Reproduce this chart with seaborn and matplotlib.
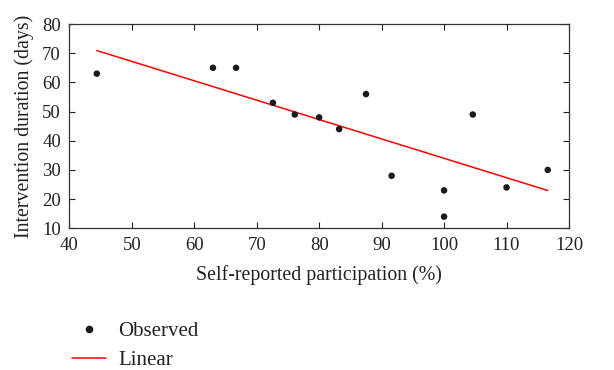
import numpy as np
import pandas as pd
import matplotlib
matplotlib.use("Agg")
import matplotlib.pyplot as plt
import seaborn as sns
from matplotlib.lines import Line2D

participation = [44.4, 63.0, 66.7, 72.6, 76.1, 80.0, 83.2, 87.5, 91.6, 100.0, 100.0, 104.6, 110.0, 116.6]
duration = [63, 65, 65, 53, 49, 48, 44, 56, 28, 23, 14, 49, 24, 30]
xticks = [40, 50, 60, 70, 80, 90, 100, 110, 120]
yticks = [10, 20, 30, 40, 50, 60, 70, 80]

df = pd.DataFrame({"x": participation, "y": duration})
slope, intercept = np.polyfit(df["x"], df["y"], 1)
fit = pd.DataFrame({"x": [min(participation), max(participation)]})
fit["y"] = intercept + slope * fit["x"]

sns.set_style("ticks")
plt.rcParams["font.family"] = ["Liberation Serif", "DejaVu Serif"]

fig = plt.figure(figsize=(6.14, 3.70), dpi=100)
ax = fig.add_axes([0.1129, 0.383, 0.8138, 0.552])

sns.scatterplot(data=df, x="x", y="y", ax=ax, color="#1a1a1a", s=22, edgecolor="none", zorder=3)
sns.lineplot(data=fit, x="x", y="y", ax=ax, color="#ff0000", linewidth=1.1, zorder=2)

ax.set_xlim(40, 120)
ax.set_ylim(10, 80)
ax.set_xticks(xticks)
ax.set_yticks(yticks)
ax.tick_params(direction="in", top=True, right=True, length=4, width=0.8, labelsize=13.5, colors="#222222", pad=6)
for s in ax.spines.values():
    s.set_visible(True)
    s.set_linewidth(0.9)
    s.set_color("#333333")
ax.set_xlabel("Self-reported participation (%)", fontsize=14.3, color="#222222", labelpad=8)
ax.set_ylabel("Intervention duration (days)", fontsize=14.3, color="#222222", labelpad=6)

handles = [
    Line2D([], [], marker="o", linestyle="none", color="#1a1a1a", markersize=4.5),
    Line2D([], [], color="#ff0000", linewidth=1.1),
]
fig.legend(handles, ["Observed", "Linear"], loc="upper left", bbox_to_anchor=(0.117, 0.13),
           frameon=False, fontsize=15, handlelength=1.63, handletextpad=0.58, labelspacing=0.45,
           borderaxespad=0, borderpad=0, labelcolor="#222222")

fig.savefig("out.png", dpi=100)
